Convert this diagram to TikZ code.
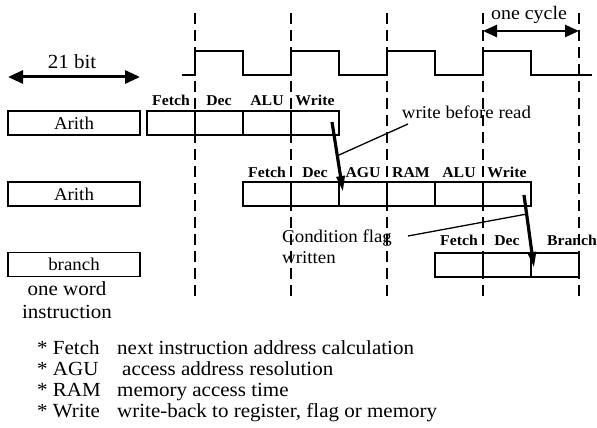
\documentclass[tikz,border=0pt]{standalone}
\usepackage{fontspec}
\setmainfont{Liberation Serif}[FakeStretch=1.05]
\usetikzlibrary{arrows.meta}
\begin{document}
\begin{tikzpicture}[x=1pt,y=-1pt,
  cell/.style={draw, line width=1.8pt, minimum width=48pt, minimum height=24pt, inner sep=0pt, outer sep=0pt},
  leftbox/.style={draw, line width=1.8pt, minimum width=132pt, minimum height=24pt, inner sep=0pt, outer sep=0pt},
  lab/.style={font=\bfseries\fontsize{15}{17}\selectfont, anchor=base, inner sep=0pt},
  txt/.style={font=\fontsize{18}{20}\selectfont, inner sep=0pt},
  legend/.style={font=\fontsize{20}{22}\selectfont, anchor=base west, inner sep=0pt},
  guide/.style={line width=2.4pt, dash pattern=on 11pt off 6pt},
  clock/.style={line width=1.8pt},
  bigarrow/.style={line width=3pt, {Triangle[length=15pt,width=13pt]}-{Triangle[length=15pt,width=13pt]}},
  cyclearrow/.style={line width=2.5pt, {Triangle[length=14pt,width=12pt]}-{Triangle[length=14pt,width=12pt]}},
  hit/.style={line width=3.2pt, -{Triangle[length=16pt,width=8pt]}},
  thinline/.style={line width=1.3pt}
]
\useasboundingbox[fill=white] (0,0) rectangle (597,428);

% dashed cycle boundaries
\foreach \xx in {195,291,387,483,579}
  \draw[guide] (\xx,13) -- (\xx,298);

% clock
\draw[clock] (182,75) -- (195,75) -- (195,51) -- (243,51) -- (243,75) -- (291,75)
  -- (291,51) -- (339,51) -- (339,75) -- (387,75) -- (387,51) -- (435,51) -- (435,75)
  -- (483,75) -- (483,51) -- (531,51) -- (531,75) -- (592,75);

% 21 bit
\coordinate (bitL) at (8,77);
\coordinate (bitR) at (140,77);
\draw[bigarrow] (bitL) -- (bitR);
\node[txt, font=\fontsize{20}{22}\selectfont, anchor=base] (bittxt) at (72,68) {21 bit};

% one cycle
\coordinate (cycL) at (483,31);
\coordinate (cycR) at (579,31);
\draw[cyclearrow] (cycL) -- (cycR);
\node[txt, font=\fontsize{19}{21}\selectfont, anchor=base] (cyctxt) at (529,20) {one cycle};

% left boxes
\node[leftbox, font=\fontsize{18}{20}\selectfont] (arith1) at (74,123) {Arith};
\node[leftbox, font=\fontsize{18}{20}\selectfont] (arith2) at (74,194) {Arith};
\node[leftbox, font=\fontsize{18}{20}\selectfont] (branchbox) at (74,264.5) {branch};
\node[txt, font=\fontsize{20}{22}\selectfont, anchor=base] (oneword) at (67,295) {one word};
\node[txt, font=\fontsize{20}{22}\selectfont, anchor=base] (instr) at (67,318) {instruction};

% row 1
\node[cell] (r1a) at (171,123) {};
\node[cell] (r1b) at (219,123) {};
\node[cell] (r1c) at (267,123) {};
\node[cell] (r1d) at (315,123) {};
\node[lab] (l1a) at (171,105) {Fetch};
\node[lab] (l1b) at (219,105) {Dec};
\node[lab] (l1c) at (267,105) {ALU};
\node[lab] (l1d) at (315,105) {Write};

% row 2
\node[cell] (r2a) at (267,194) {};
\node[cell] (r2b) at (315,194) {};
\node[cell] (r2c) at (363,194) {};
\node[cell] (r2d) at (411,194) {};
\node[cell] (r2e) at (459,194) {};
\node[cell] (r2f) at (507,194) {};
\node[lab] (l2a) at (267,177) {Fetch};
\node[lab] (l2b) at (315,177) {Dec};
\node[lab] (l2c) at (363,177) {AGU};
\node[lab] (l2d) at (411,177) {RAM};
\node[lab] (l2e) at (459,177) {ALU};
\node[lab] (l2f) at (507,177) {Write};

% row 3
\node[cell] (r3a) at (459,265) {};
\node[cell] (r3b) at (507,265) {};
\node[cell] (r3c) at (555,265) {};
\node[lab] (l3a) at (459,245) {Fetch};
\node[lab] (l3b) at (507,245) {Dec};
\node[lab] (l3c) at (572,245) {Branch};

% write before read
\node[txt, anchor=base] (wbr) at (466.5,118) {write before read};
\coordinate (wbrA) at (408,124);
\coordinate (wbrB) at (339,155);
\draw[thinline] (wbrA) -- (wbrB);
\coordinate (h1s) at (332,122);
\coordinate (h1e) at (343,192);
\draw[hit] (h1s) -- (h1e);

% condition flag
\node[txt, anchor=base west] (cond1) at (282,242) {Condition flag};
\node[txt, anchor=base west] (cond2) at (282,263) {written};
\coordinate (cfA) at (408,236);
\coordinate (cfB) at (527,214);
\draw[thinline] (cfA) -- (cfB);
\coordinate (h2s) at (524,195);
\coordinate (h2e) at (534,268);
\draw[hit] (h2s) -- (h2e);

% legend
\node[legend] (g1a) at (37,354) {* Fetch};
\node[legend] (g1b) at (117,354) {next instruction address calculation};
\node[legend] (g2a) at (37,375) {* AGU};
\node[legend] (g2b) at (122,375) {access address resolution};
\node[legend] (g3a) at (37,396) {* RAM};
\node[legend] (g3b) at (117,396) {memory access time};
\node[legend] (g4a) at (37,417) {* Write};
\node[legend] (g4b) at (117,417) {write-back to register, flag or memory};
\end{tikzpicture}
\end{document}
